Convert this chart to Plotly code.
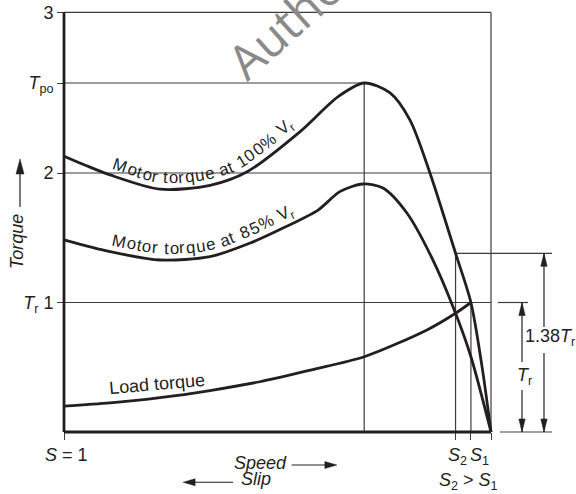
import math
import plotly.graph_objects as go

FONT = "Liberation Sans"
INK = "#231f20"
RULE = "#3c3c3c"

# Speed as a fraction of synchronous speed (0 = standstill, S = 1; 1 = synchronous speed)
speed_100 = [0.0, 0.05, 0.108, 0.225, 0.342, 0.429, 0.553, 0.642, 0.703, 0.763, 0.810, 0.857, 0.917, 0.953, 0.979, 1.0]
torque_100 = [2.13, 2.06, 1.985, 1.875, 1.905, 2.01, 2.32, 2.59, 2.695, 2.62, 2.41, 2.0, 1.38, 1.0, 0.505, 0.0]

speed_85 = [0.0, 0.108, 0.225, 0.342, 0.436, 0.513, 0.595, 0.646, 0.700, 0.747, 0.803, 0.864, 0.917, 0.953, 1.0]
torque_85 = [1.483, 1.392, 1.328, 1.354, 1.459, 1.575, 1.714, 1.856, 1.915, 1.884, 1.691, 1.328, 0.917, 0.581, 0.0]

speed_load = [0.0, 0.108, 0.225, 0.342, 0.459, 0.580, 0.703, 0.850, 0.917, 0.953]
torque_load = [0.20, 0.225, 0.265, 0.32, 0.388, 0.48, 0.581, 0.788, 0.917, 1.0]

# Key operating values
T_PO = 2.695      # pull-out torque at rated voltage
S_PEAK = 0.703    # speed at pull-out
T_TOP = 3.24      # top rule of the torque scale
T_R = 1.0         # rated (load) torque
T_138 = 1.38      # motor torque at slip S2 with 100 % voltage
S2 = 0.917
S1 = 0.953

y_tick_vals = [T_R, 2.0, T_PO, T_TOP]
y_tick_text = ["<i>T</i><sub>r</sub> 1", "2", "<i>T</i><sub>po</sub>", "3"]
x_tick_vals = [0.0, S2, S1, 1.0]

# Page geometry: one data unit in pixels and the pixel position of the origin
W, H = 576, 494
PX_X, PX_Y = 427.0, 129.5
OX, OY = 64.0, 432.0
x_range = [-OX / PX_X, (W - OX) / PX_X]
y_range = [-(H - OY) / PX_Y, OY / PX_Y]


def dx(px):
    return px / PX_X


def dy(px):
    return px / PX_Y


shapes = []


def rule(x0, y0, x1, y1, width=1.2, color=RULE, layer="below"):
    shapes.append(dict(type="line", xref="x", yref="y", x0=x0, y0=y0, x1=x1, y1=y1,
                       line=dict(color=color, width=width), layer=layer))


def head(x, y, direction, length=13, half=3.2):
    """Filled narrow arrowhead with its tip at (x, y)."""
    if direction == "up":
        pts = [(x, y), (x - dx(half), y - dy(length)), (x + dx(half), y - dy(length))]
    elif direction == "down":
        pts = [(x, y), (x - dx(half), y + dy(length)), (x + dx(half), y + dy(length))]
    elif direction == "right":
        pts = [(x, y), (x - dx(length), y + dy(half)), (x - dx(length), y - dy(half))]
    else:
        pts = [(x, y), (x + dx(length), y + dy(half)), (x + dx(length), y - dy(half))]
    path = "M " + " L ".join(f"{a:.5f},{b:.5f}" for a, b in pts) + " Z"
    shapes.append(dict(type="path", xref="x", yref="y", path=path,
                       fillcolor=INK, line=dict(color=INK, width=0.5), layer="above"))


# Frame and reference rules
rule(0, T_TOP, 1.0, T_TOP)
rule(0, 2.0, 1.0, 2.0)
rule(0, T_PO, S_PEAK, T_PO)
rule(0, T_R, 1.0, T_R)
rule(1.0, 0, 1.0, T_TOP)
rule(S_PEAK, 0, S_PEAK, T_PO)
rule(S2, 0, S2, T_138)
rule(S1, 0, S1, T_R)

# Dimension lines on the right
DIM_TR_X = 1.0726
DIM_138_X = 1.1241
rule(S2, T_138, 1.1429, T_138)
rule(1.0164, T_R, 1.0867, T_R)
rule(1.0211, 0, 1.1429, 0)

rule(DIM_TR_X, T_R, DIM_TR_X, 0.541, width=1.2, color=INK)
rule(DIM_TR_X, 0.324, DIM_TR_X, 0, width=1.2, color=INK)
head(DIM_TR_X, T_R, "up")
head(DIM_TR_X, 0, "down")

rule(DIM_138_X, T_138, DIM_138_X, 0.811, width=1.2, color=INK)
rule(DIM_138_X, 0.610, DIM_138_X, 0, width=1.2, color=INK)
head(DIM_138_X, T_138, "up")
head(DIM_138_X, 0, "down")

# Main axes (heavy)
rule(0, 0, 0, T_TOP, width=2.8, color=INK, layer="above")
rule(0, 0, 1.0, 0, width=2.8, color=INK, layer="above")

# Torque title arrow and the speed / slip direction arrows
rule(-0.103, 1.737, -0.103, 2.00, width=1.2, color=INK)
head(-0.103, 2.108, "up", length=15, half=4)
rule(0.533, -0.255, 0.615, -0.255, width=1.2, color=INK)
head(0.639, -0.255, "right", length=12, half=3.5)
rule(0.396, -0.388, 0.305, -0.388, width=1.2, color=INK)
head(0.279, -0.388, "left", length=12, half=3.5)

fig = go.Figure()
for sx, ty in [(speed_100, torque_100), (speed_85, torque_85), (speed_load, torque_load)]:
    fig.add_trace(go.Scatter(x=sx, y=ty, mode="lines",
                             line=dict(color=INK, width=2.8, shape="spline", smoothing=0.8),
                             hoverinfo="skip", showlegend=False))

annotations = []


def label(text, x, y, size=18, angle=0, xanchor="center", color=INK, family=FONT):
    annotations.append(dict(text=text, x=x, y=y, xref="x", yref="y", showarrow=False,
                            textangle=angle, xanchor=xanchor, yanchor="middle",
                            font=dict(family=family, size=size, color=color)))


# ---- text set along a curve ------------------------------------------------
# advance widths (em) of the sans-serif face
EM = {"M": .833, "o": .556, "t": .278, "r": .333, " ": .278, "q": .556, "u": .556,
      "e": .556, "a": .556, "1": .556, "0": .556, "%": .889, "V": .667, "8": .556, "5": .556}


def catmull(points, n=24):
    out = []
    m = len(points)
    for i in range(m - 1):
        p0 = points[max(i - 1, 0)]
        p1, p2 = points[i], points[i + 1]
        p3 = points[min(i + 2, m - 1)]
        for k in range(n):
            t = k / n
            t2, t3 = t * t, t * t * t
            out.append(tuple(0.5 * (2 * p1[j] + (-p0[j] + p2[j]) * t
                                    + (2 * p0[j] - 5 * p1[j] + 4 * p2[j] - p3[j]) * t2
                                    + (-p0[j] + 3 * p1[j] - 3 * p2[j] + p3[j]) * t3)
                             for j in range(2)))
    out.append(points[-1])
    return out


def text_on_curve(tokens, xs, ys, x_from, x_to, size, lift=6.0):
    pix = [(OX + PX_X * a, OY - PX_Y * b) for a, b in zip(xs, ys)]
    pts = catmull(pix)
    arc = [0.0]
    for i in range(1, len(pts)):
        arc.append(arc[-1] + math.dist(pts[i - 1], pts[i]))

    def point(s):
        for i in range(1, len(pts)):
            if arc[i] >= s:
                f = (s - arc[i - 1]) / max(arc[i] - arc[i - 1], 1e-9)
                return (pts[i - 1][0] + f * (pts[i][0] - pts[i - 1][0]),
                        pts[i - 1][1] + f * (pts[i][1] - pts[i - 1][1]))
        return pts[-1]

    def s_at(xp):
        for i in range(1, len(pts)):
            if pts[i][0] >= xp:
                f = (xp - pts[i - 1][0]) / max(pts[i][0] - pts[i - 1][0], 1e-9)
                return arc[i - 1] + f * (arc[i] - arc[i - 1])
        return arc[-1]

    s0, s1 = s_at(x_from), s_at(x_to)
    widths = [w * size for _, w in tokens]
    track = (s1 - s0 - sum(widths)) / (len(tokens) - 1)
    cur = s0
    for (txt, _), w in zip(tokens, widths):
        mid = cur + w / 2
        a, b = point(mid - 12), point(mid + 12)
        tx, ty = b[0] - a[0], b[1] - a[1]
        norm = math.hypot(tx, ty)
        tx, ty = tx / norm, ty / norm
        nx, ny = ty, -tx
        c = point(mid)
        off = lift + 0.36 * size
        cx, cy = c[0] + nx * off, c[1] + ny * off
        if txt.strip():
            label(txt, (cx - OX) / PX_X, (OY - cy) / PX_Y, size=size,
                  angle=math.degrees(math.atan2(ty, tx)))
        cur += w + track


def tokens_for(text):
    toks = [(ch, EM[ch]) for ch in text]
    toks.append(("V<sub>r</sub>", 0.667 + 0.333 * 0.7))
    return toks


text_on_curve(tokens_for("Motor torque at 100% "), speed_100, torque_100, 109.5, 299.0, 16.8)
text_on_curve(tokens_for("Motor torque at 85% "), speed_85, torque_85, 109.5, 298.0, 16.8)
label("Load torque", 0.2178, 0.368, size=18, angle=-5)

# Axis words
label("<i>Torque</i>", -0.110, 1.467, angle=-90)
label("<i>S</i> = 1", 0.005, -0.178)
label("<i>S</i><sub>2</sub>", S2 + 0.004, -0.19)
label("<i>S</i><sub>1</sub>", 0.972, -0.19)
label("<i>S</i><sub>2</sub> > <i>S</i><sub>1</sub>", 0.947, -0.38)
label("<i>Speed</i>", 0.460, -0.236)
label("<i>Slip</i>", 0.449, -0.36)
label("<i>T</i><sub>r</sub>", 1.079, 0.427)
label("1.38<i>T</i><sub>r</sub>", 1.0750, 0.726, xanchor="left")

# Watermark
label("Author", 0.536, 3.208, size=48, angle=-42, color="#8a8a8a", family="Open Sans")

fig.update_layout(
    width=W, height=H,
    margin=dict(l=0, r=0, t=0, b=0),
    paper_bgcolor="white", plot_bgcolor="white",
    shapes=shapes, annotations=annotations,
    xaxis=dict(range=x_range, domain=[0, 1], anchor="free", position=(H - OY) / H,
               showgrid=False, zeroline=False, showline=False, showticklabels=False,
               ticks="outside", ticklen=7, tickwidth=1.2, tickcolor=RULE,
               tickvals=x_tick_vals, fixedrange=True),
    yaxis=dict(range=y_range, domain=[0, 1], anchor="free", position=OX / W,
               showgrid=False, zeroline=False, showline=False,
               ticks="outside", ticklen=7, tickwidth=1.2, tickcolor=RULE,
               tickvals=y_tick_vals, ticktext=y_tick_text,
               tickfont=dict(family=FONT, size=18, color=INK), fixedrange=True),
    showlegend=False,
)

fig.write_html("out.html")
